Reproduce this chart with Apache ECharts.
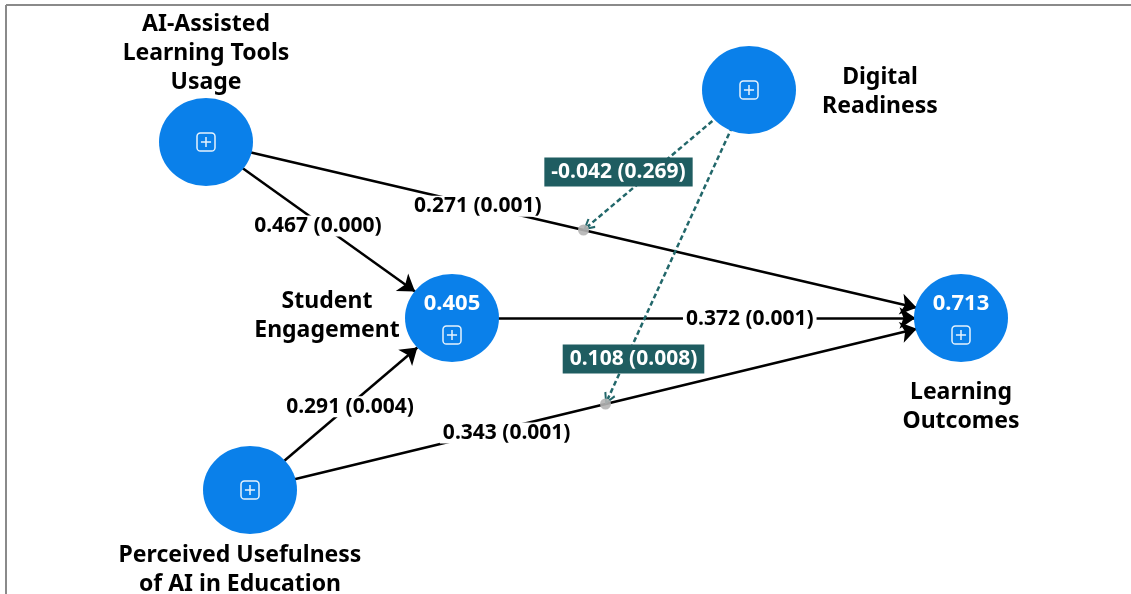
<!DOCTYPE html>
<html>
<head>
<meta charset="utf-8">
<title>Structural model</title>
<script src="https://cdn.jsdelivr.net/npm/echarts@6/dist/echarts.min.js"></script>
<style>
    html, body { margin: 0; padding: 0; background: #fff; }
    #chart { width: 1131px; height: 594px; }
</style>
</head>
<body>
<div id="chart"></div>
<script>
// constructs
const nodeIds = ['AI', 'DR', 'SE', 'LO', 'PU']
const nodeNames = [
    'AI-Assisted\nLearning Tools\nUsage',
    'Digital\nReadiness',
    'Student\nEngagement',
    'Learning\nOutcomes',
    'Perceived Usefulness\nof AI in Education'
]
const rSquared = [null, null, 0.405, 0.713, null]

// structural paths: coefficient (p value)
const pathFrom = ['AI', 'AI', 'SE', 'PU', 'PU']
const pathTo = ['LO', 'SE', 'LO', 'SE', 'LO']
const pathCoef = [0.271, 0.467, 0.372, 0.291, 0.343]
const pathP = [0.001, 0.000, 0.001, 0.004, 0.001]

// moderating effects of Digital Readiness on paths 0 and 4
const modFrom = ['DR', 'DR']
const modPath = [0, 4]
const modCoef = [-0.042, 0.108]
const modP = [0.269, 0.008]

// layout (canvas pixels)
const nodePos = {AI: [206, 142], DR: [749, 90], SE: [452, 318], LO: [961, 318], PU: [250, 490]}
const nameOffset = {AI: [0, -89], DR: [131, 2], SE: [-125, -2], LO: [0, 89], PU: [-10, 80]}
const pathLabelT = [0.36, 0.455, 0.585, 0.495, 0.361]
const pathLabelDy = [1, 4, 1, 2, 5]
const modLabelOffset = [[35, -58], [28, -45]]

const BLUE = '#0a80ea'
const TEAL = '#1f5d61'
const FONT = '"Noto Sans", "Open Sans", sans-serif'

const fmt = v => v.toFixed(3)
const lerp = (a, b, t) => [a[0] + (b[0] - a[0]) * t, a[1] + (b[1] - a[1]) * t]

const modPos = modPath.map(i => lerp(nodePos[pathFrom[i]], nodePos[pathTo[i]], 0.5))

const graphNodes = nodeIds.map(id => ({
    name: id,
    value: nodePos[id],
    symbolSize: [94, 88],
    itemStyle: {color: BLUE, opacity: 1}
})).concat(modPos.map((p, i) => ({
    name: 'M' + i,
    value: p,
    symbolSize: 11,
    itemStyle: {color: '#b4b4b4', opacity: 0.9}
})))

const graphLinks = pathFrom.map((s, i) => ({
    source: s,
    target: pathTo[i],
    lineStyle: {color: '#000', width: 2.5, type: 'solid', opacity: 1}
})).concat(modFrom.map((s, i) => ({
    source: s,
    target: 'M' + i,
    symbol: ['none', 'path://M5,0 L10,9 L8.6,10 L5,3.2 L1.4,10 L0,9 Z'],
    symbolSize: [11, 12],
    lineStyle: {color: '#22676a', width: 2.5, type: [5, 3], opacity: 1}
})))

const pathLabels = pathFrom.map((s, i) => {
    const p = lerp(nodePos[s], nodePos[pathTo[i]], pathLabelT[i])
    return {
        value: [p[0], p[1] + pathLabelDy[i]],
        text: fmt(pathCoef[i]) + ' (' + fmt(pathP[i]) + ')'
    }
})

const modLabels = modPos.map((p, i) => ({
    value: [p[0] + modLabelOffset[i][0], p[1] + modLabelOffset[i][1]],
    text: fmt(modCoef[i]) + ' (' + fmt(modP[i]) + ')'
}))

const iconPath = 'path://M3,0 H13 A3,3 0 0 1 16,3 V13 A3,3 0 0 1 13,16 H3 A3,3 0 0 1 0,13 V3 A3,3 0 0 1 3,0 Z M8,3.5 V12.5 M3.5,8 H12.5'

const textScatter = {type: 'scatter', symbolSize: 0, itemStyle: {opacity: 1}, emphasis: {disabled: true}}

const chart = echarts.init(document.getElementById('chart'))
chart.setOption({
    backgroundColor: '#fff',
    animation: false,
    grid: {left: 0, right: 0, top: 0, bottom: 0},
    xAxis: {type: 'value', min: 0, max: 1131, show: false},
    yAxis: {type: 'value', min: 0, max: 594, inverse: true, show: false},
    graphic: [
        {type: 'line', shape: {x1: 6, y1: 5, x2: 1131, y2: 5}, style: {stroke: '#8a8a8a', lineWidth: 2}},
        {type: 'line', shape: {x1: 6, y1: 5, x2: 6, y2: 594}, style: {stroke: '#8a8a8a', lineWidth: 2}}
    ],
    series: [{
        type: 'graph',
        layout: 'none',
        coordinateSystem: 'cartesian2d',
        edgeSymbol: ['none', 'arrow'],
        edgeSymbolSize: [0, 16],
        label: {show: false},
        emphasis: {disabled: true},
        data: graphNodes,
        links: graphLinks,
        z: 2
    }, Object.assign({}, textScatter, {
        // path coefficients
        z: 5,
        data: pathLabels.map(d => ({value: d.value, text: d.text})),
        label: {
            show: true,
            position: 'inside',
            formatter: p => p.data.text,
            color: '#000',
            fontFamily: FONT,
            fontWeight: 'bold',
            fontSize: 21,
            backgroundColor: '#fff',
            padding: [0, 3]
        }
    }), Object.assign({}, textScatter, {
        // moderation effects
        z: 6,
        data: modLabels.map(d => ({value: d.value, text: d.text})),
        label: {
            show: true,
            position: 'inside',
            formatter: p => p.data.text,
            color: '#fff',
            fontFamily: FONT,
            fontWeight: 'bold',
            fontSize: 21,
            lineHeight: 23,
            backgroundColor: TEAL,
            padding: [3, 7]
        }
    }), Object.assign({}, textScatter, {
        // construct names
        z: 4,
        data: nodeIds.map((id, i) => ({value: nodePos[id], text: nodeNames[i]})),
        label: {
            show: true,
            position: 'inside',
            formatter: p => p.data.text,
            color: '#000',
            fontFamily: FONT,
            fontWeight: 'bold',
            fontSize: 23,
            lineHeight: 29,
            align: 'center'
        },
        labelLayout: p => {
            const off = nameOffset[nodeIds[p.dataIndex]]
            return {dx: off[0], dy: off[1]}
        }
    }), Object.assign({}, textScatter, {
        // R squared
        z: 4,
        data: nodeIds.map((id, i) => ({value: nodePos[id], r2: rSquared[i]})).filter(d => d.r2 !== null),
        label: {
            show: true,
            position: 'inside',
            offset: [0, -14],
            formatter: p => fmt(p.data.r2),
            color: '#fff',
            fontFamily: FONT,
            fontWeight: 'bold',
            fontSize: 22
        }
    }), {
        // expand icons
        type: 'scatter',
        symbol: iconPath,
        symbolSize: 18,
        z: 4,
        data: nodeIds.map((id, i) => ({
            value: nodePos[id],
            symbolOffset: [0, rSquared[i] !== null ? 17 : 0]
        })),
        itemStyle: {color: 'rgba(0,0,0,0)', borderColor: '#fff', borderWidth: 1.5, opacity: 0.9},
        emphasis: {disabled: true}
    }]
})
</script>
</body>
</html>
